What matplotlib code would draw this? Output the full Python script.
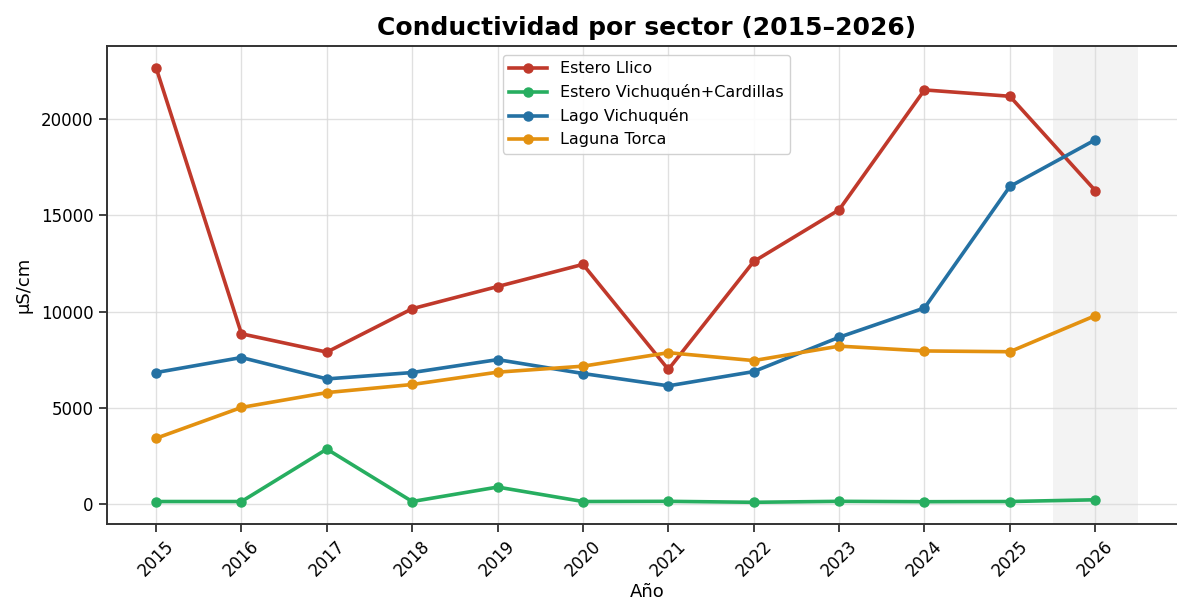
import matplotlib
matplotlib.use("Agg")
import matplotlib.pyplot as plt

years = [2015, 2016, 2017, 2018, 2019, 2020, 2021, 2022, 2023, 2024, 2025, 2026]
estero_llico = [22650, 8850, 7900, 10150, 11300, 12450, 7000, 12600, 15280, 21500, 21170, 16280]
estero_vich_card = [150, 150, 2870, 150, 900, 150, 160, 110, 160, 140, 150, 240]
lago_vichuquen = [6840, 7620, 6510, 6840, 7510, 6790, 6150, 6890, 8670, 10190, 16490, 18910]
laguna_torca = [3430, 5030, 5800, 6220, 6860, 7170, 7870, 7460, 8210, 7960, 7920, 9790]

series = [
    ("Estero Llico", estero_llico, "#c0392b"),
    ("Estero Vichuquén+Cardillas", estero_vich_card, "#27ae60"),
    ("Lago Vichuquén", lago_vichuquen, "#2471a3"),
    ("Laguna Torca", laguna_torca, "#e39110"),
]

fig = plt.figure(figsize=(11.77, 6.07), dpi=100)
ax = fig.add_axes([0.0909, 0.1367, 0.9176, 0.7875])

ax.axvspan(2025.5, 2026.5, color="#808080", alpha=0.09, lw=0, zorder=0)

for name, vals, col in series:
    ax.plot(years, vals, marker="o", color=col, lw=2.6, ms=6.5, label=name, zorder=3)

ax.set_xticks(years)
ax.set_xticklabels([str(y) for y in years], rotation=45, fontsize=12)
ax.tick_params(axis="y", labelsize=12)
ax.tick_params(axis="both", length=6, width=1.3, color="#333333")
ax.grid(True, color="#d9d9d9", lw=1.0, alpha=0.8)
ax.set_axisbelow(True)
for s in ax.spines.values():
    s.set_color("#333333")
    s.set_linewidth(1.4)

ax.set_xlabel("Año", fontsize=13, labelpad=2)
ax.set_ylabel("µS/cm", fontsize=13, labelpad=6)
ax.set_title("Conductividad por sector (2015–2026)", fontsize=18, fontweight="bold", pad=8)
ax.legend(loc="upper center", fontsize=11.5, framealpha=0.9, edgecolor="#cccccc",
          handlelength=2.4, bbox_to_anchor=(0.4995, 0.998))

fig.savefig("out.png", dpi=100)
